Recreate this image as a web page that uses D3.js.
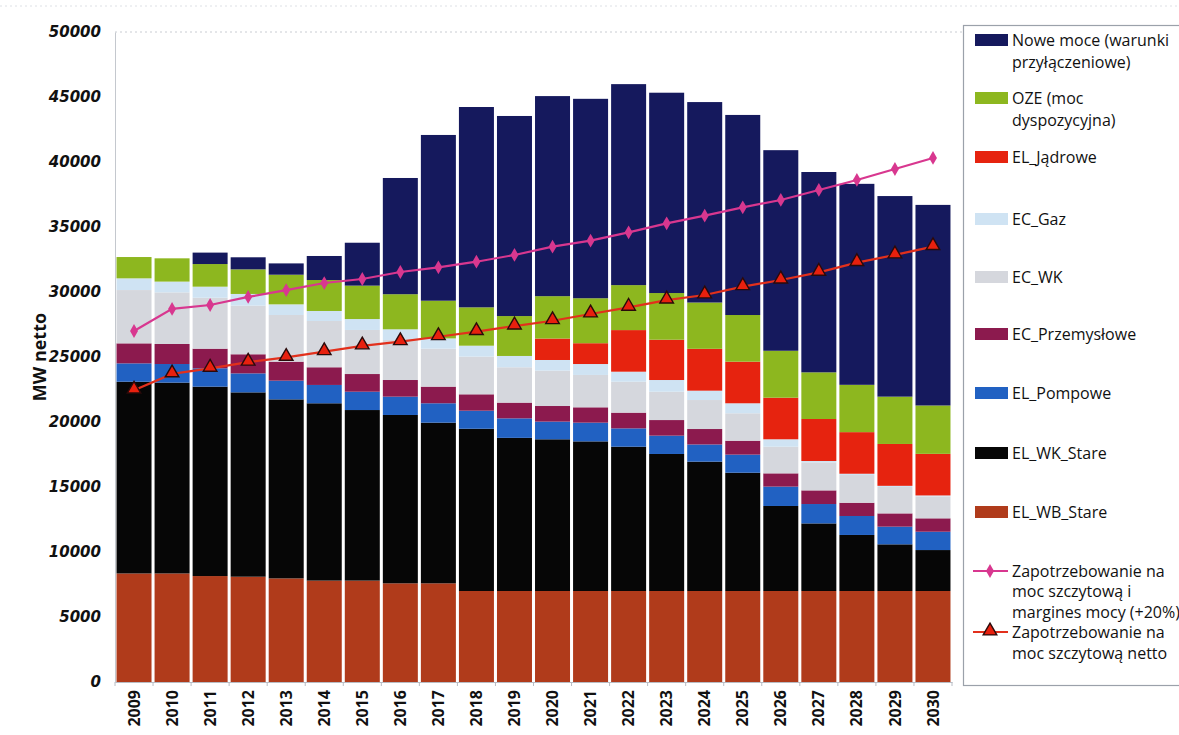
<!DOCTYPE html>
<html>
<head>
<meta charset="utf-8">
<script src="https://cdn.jsdelivr.net/npm/d3@7"></script>
<style>
  html, body { margin: 0; padding: 0; background: #ffffff; }
  svg { display: block; }
</style>
</head>
<body>
<svg id="chart" width="1179" height="735"></svg>
<script>
// Years on the horizontal axis
const years = ["2009","2010","2011","2012","2013","2014","2015","2016","2017","2018","2019",
               "2020","2021","2022","2023","2024","2025","2026","2027","2028","2029","2030"];

// Installed capacity by source, MW netto (stacked bottom to top)
const elWBStare     = [8350,8350,8150,8100,7970,7800,7800,7590,7590,7000,7000,7000,7000,7000,7000,7000,7000,7000,7000,7000,7000,7000];
const elWKStare     = [14750,14680,14570,14180,13770,13640,13120,12950,12360,12480,11780,11670,11510,11100,10540,9950,9100,6540,5200,4310,3590,3150];
const elPompowe     = [1410,1430,1410,1460,1440,1410,1410,1410,1490,1390,1500,1360,1440,1410,1410,1320,1390,1490,1490,1460,1360,1410];
const ecPrzemyslowe = [1540,1540,1510,1470,1460,1360,1360,1280,1280,1260,1210,1200,1180,1210,1200,1190,1070,1020,1050,1020,1020,1030];
const ecWK          = [4100,3970,3920,3740,3590,3560,3390,3080,2920,2900,2720,2720,2490,2380,2180,2230,2110,2050,2160,2130,2030,1690];
const ecGaz         = [900,830,850,900,820,770,840,820,790,840,870,820,840,770,900,720,770,570,100,100,90,70];
const elJadrowe     = [0,0,0,0,0,0,0,0,0,0,0,1650,1600,3200,3100,3220,3200,3200,3230,3200,3220,3200];
const oze           = [1640,1790,1740,1890,2280,2380,2570,2700,2900,2950,3070,3260,3460,3460,3590,3560,3590,3610,3590,3640,3640,3720];
const noweMoce      = [0,0,880,930,870,1850,3300,8940,12750,15410,15390,15390,15340,15460,15410,15420,15390,15430,15410,15460,15430,15430];

// Demand lines
const demandMargin = [27000,28700,29000,29620,30150,30690,31000,31540,31900,32330,32850,33490,33950,34590,35280,35870,36510,37080,37850,38620,39460,40310];
const demandNet    = [22450,23700,24130,24600,24970,25410,25850,26180,26560,26950,27380,27790,28310,28820,29380,29770,30410,30920,31510,32260,32850,33490];

// Axis ticks
const yTicks = [0,5000,10000,15000,20000,25000,30000,35000,40000,45000,50000];

const seriesKeys = ["elWBStare","elWKStare","elPompowe","ecPrzemyslowe","ecWK","ecGaz","elJadrowe","oze","noweMoce"];
const seriesValues = { elWBStare, elWKStare, elPompowe, ecPrzemyslowe, ecWK, ecGaz, elJadrowe, oze, noweMoce };
const seriesColors = {
  noweMoce: "#15195d",
  oze: "#8db71f",
  elJadrowe: "#e6230f",
  ecGaz: "#cfe3f3",
  ecWK: "#d5d7dd",
  ecPrzemyslowe: "#8c1a4e",
  elPompowe: "#2161c2",
  elWKStare: "#060606",
  elWBStare: "#b03b1b"
};

// Legend entries, top to bottom
const legendItems = [
  { key: "noweMoce", lines: ["Nowe moce (warunki", "przyłączeniowe)"], y: 40 },
  { key: "oze", lines: ["OZE (moc", "dyspozycyjna)"], y: 98 },
  { key: "elJadrowe", lines: ["EL_Jądrowe"], y: 157 },
  { key: "ecGaz", lines: ["EC_Gaz"], y: 219 },
  { key: "ecWK", lines: ["EC_WK"], y: 277 },
  { key: "ecPrzemyslowe", lines: ["EC_Przemysłowe"], y: 334 },
  { key: "elPompowe", lines: ["EL_Pompowe"], y: 393 },
  { key: "elWKStare", lines: ["EL_WK_Stare"], y: 453 },
  { key: "elWBStare", lines: ["EL_WB_Stare"], y: 512 }
];
const legendLines = [
  { type: "margin", lines: ["Zapotrzebowanie na", "moc szczytową i", "margines mocy (+20%)"], y: 571 },
  { type: "net", lines: ["Zapotrzebowanie na", "moc szczytową netto"], y: 632 }
];

const pinkColor = "#d8378f";
const redLine = "#e2301c";

const svg = d3.select("#chart");
const W = 1179, H = 735;

const plot = { left: 115, right: 952, top: 32, bottom: 682 };

const x = d3.scaleBand()
  .domain(years)
  .range([plot.left, plot.right])
  .paddingInner(0.08)
  .paddingOuter(0.04);

const y = d3.scaleLinear()
  .domain([0, 50000])
  .range([plot.bottom, plot.top]);

// Build the table that d3.stack consumes
const table = years.map((yr, i) => {
  const row = { year: yr };
  seriesKeys.forEach(k => { row[k] = seriesValues[k][i]; });
  return row;
});
const stacked = d3.stack().keys(seriesKeys)(table);

// Faint dotted gridline at the top of the value range
svg.append("line")
  .attr("x1", plot.left).attr("x2", plot.right + 10)
  .attr("y1", y(50000)).attr("y2", y(50000))
  .attr("stroke", "#c9ccd2").attr("stroke-width", 1)
  .attr("stroke-dasharray", "2,3");
svg.append("line")
  .attr("x1", 0).attr("x2", W)
  .attr("y1", 6).attr("y2", 6)
  .attr("stroke", "#dde0e5").attr("stroke-width", 1)
  .attr("stroke-dasharray", "2,3");

// Stacked bars
svg.append("g")
  .selectAll("g")
  .data(stacked)
  .join("g")
  .attr("fill", d => seriesColors[d.key])
  .selectAll("rect")
  .data(d => d)
  .join("rect")
  .attr("x", d => x(d.data.year))
  .attr("width", x.bandwidth())
  .attr("y", d => y(d[1]))
  .attr("height", d => Math.max(0, y(d[0]) - y(d[1])));

// Axes
const yAxis = d3.axisLeft(y).tickValues(yTicks).tickSize(0).tickPadding(14)
  .tickFormat(d3.format("d"));
const gy = svg.append("g")
  .attr("transform", `translate(${plot.left},0)`)
  .call(yAxis);
gy.select(".domain").attr("stroke", "#c4c8ce").attr("stroke-width", 1);
gy.selectAll("text")
  .attr("font-family", "'DejaVu Sans', sans-serif")
  .attr("font-size", 15)
  .attr("font-weight", "bold")
  .attr("font-style", "italic")
  .attr("fill", "#111");

const xAxis = d3.axisBottom(x).tickSize(0).tickPadding(0);
const gx = svg.append("g")
  .attr("transform", `translate(0,${plot.bottom})`)
  .call(xAxis);
gx.select(".domain").attr("stroke", "#b8bcc4").attr("stroke-width", 1);
gx.selectAll("text")
  .attr("font-family", "'Open Sans', sans-serif")
  .attr("font-size", 16)
  .attr("font-weight", "bold")
  .attr("fill", "#111")
  .attr("text-anchor", "end")
  .attr("dy", "0.35em")
  .attr("transform", "translate(0,8) rotate(-90)");

// Small ticks between categories
const step = x.step();
const boundaries = years.map(yr => x(yr) - (step - x.bandwidth()) / 2).concat([x(years[years.length - 1]) + x.bandwidth() + (step - x.bandwidth()) / 2]);
svg.append("g")
  .selectAll("line")
  .data(boundaries)
  .join("line")
  .attr("x1", d => d).attr("x2", d => d)
  .attr("y1", plot.bottom).attr("y2", plot.bottom + 4)
  .attr("stroke", "#b8bcc4");

// Y axis title
svg.append("text")
  .attr("transform", `translate(40,${(plot.top + plot.bottom) / 2}) rotate(-90)`)
  .attr("text-anchor", "middle")
  .attr("dy", "0.35em")
  .attr("font-family", "'Open Sans', sans-serif")
  .attr("font-size", 18)
  .attr("font-weight", "bold")
  .attr("fill", "#111")
  .text("MW netto");

// Demand lines
const cx = yr => x(yr) + x.bandwidth() / 2;
const lineGen = d3.line().x(d => cx(d.year)).y(d => y(d.v));

const marginData = years.map((yr, i) => ({ year: yr, v: demandMargin[i] }));
const netData = years.map((yr, i) => ({ year: yr, v: demandNet[i] }));

svg.append("path")
  .datum(marginData)
  .attr("d", lineGen)
  .attr("fill", "none")
  .attr("stroke", pinkColor)
  .attr("stroke-width", 2.2);

const diamond = d3.symbol().type(d3.symbolDiamond).size(55);
svg.append("g")
  .selectAll("path")
  .data(marginData)
  .join("path")
  .attr("transform", d => `translate(${cx(d.year)},${y(d.v)})`)
  .attr("d", diamond)
  .attr("fill", pinkColor);

svg.append("path")
  .datum(netData)
  .attr("d", lineGen)
  .attr("fill", "none")
  .attr("stroke", redLine)
  .attr("stroke-width", 2.2);

const tri = d3.symbol().type(d3.symbolTriangle).size(80);
svg.append("g")
  .selectAll("path")
  .data(netData)
  .join("path")
  .attr("transform", d => `translate(${cx(d.year)},${y(d.v) - 1})`)
  .attr("d", tri)
  .attr("fill", "#e8200e")
  .attr("stroke", "#2a0a0a")
  .attr("stroke-width", 1.4);

// Legend
const lg = svg.append("g");
lg.append("rect")
  .attr("x", 963.5).attr("y", 25.5)
  .attr("width", 240).attr("height", 660)
  .attr("fill", "#ffffff")
  .attr("stroke", "#9ba1aa").attr("stroke-width", 1.2);

const textX = 1012;
const lineH = 22.5;
const legendFont = 16;
legendItems.forEach(item => {
  lg.append("rect")
    .attr("x", 975).attr("y", item.y - 6)
    .attr("width", 33).attr("height", 12)
    .attr("fill", seriesColors[item.key]);
  const t = lg.append("text")
    .attr("font-family", "'Open Sans', sans-serif")
    .attr("font-size", legendFont)
    .attr("fill", "#111");
  item.lines.forEach((ln, i) => {
    t.append("tspan").attr("x", textX).attr("y", item.y + i * lineH).attr("dy", "0.35em").text(ln);
  });
});

legendLines.forEach(item => {
  lg.append("line")
    .attr("x1", 973).attr("x2", 1008)
    .attr("y1", item.y).attr("y2", item.y)
    .attr("stroke", item.type === "margin" ? pinkColor : redLine)
    .attr("stroke-width", 2);
  if (item.type === "margin") {
    lg.append("path")
      .attr("transform", `translate(990,${item.y})`)
      .attr("d", diamond)
      .attr("fill", pinkColor);
  } else {
    lg.append("path")
      .attr("transform", `translate(990,${item.y - 1})`)
      .attr("d", tri)
      .attr("fill", "#e8200e")
      .attr("stroke", "#2a0a0a")
      .attr("stroke-width", 1.4);
  }
  const t = lg.append("text")
    .attr("font-family", "'Open Sans', sans-serif")
    .attr("font-size", legendFont)
    .attr("fill", "#111");
  item.lines.forEach((ln, i) => {
    t.append("tspan").attr("x", textX).attr("y", item.y + i * (item.type === "margin" ? 20.5 : 21.5)).attr("dy", "0.35em").text(ln);
  });
});
</script>
</body>
</html>
